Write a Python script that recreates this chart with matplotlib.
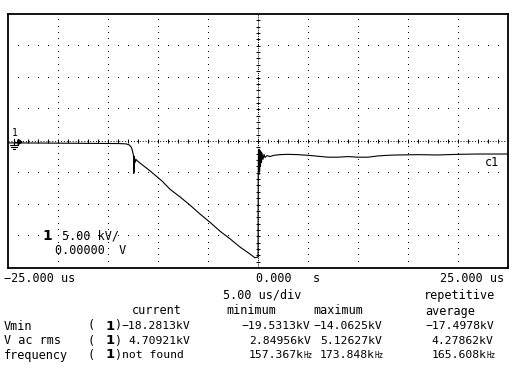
import numpy as np
import matplotlib
matplotlib.use("Agg")
from matplotlib import pyplot as plt
from matplotlib.lines import Line2D

# trace of channel 1 (time in us, voltage in kV)
t_trace = [-25, -22, -19, -16, -14, -13.2, -12.9, -12.7, -12.6, -12.5,
           -12.45, -12.42, -12.40, -12.38, -12.35, -12.3, -12.2,
           -12.1, -10.8, -9.6, -8.8, -7.8, -6.8, -5.8, -4.8, -3.8, -2.8, -1.8, -0.8, -0.3, -0.1,
           0.0, 0.02, 0.05, 0.08, 0.12, 0.16, 0.2, 0.25, 0.3, 0.35, 0.4, 0.5, 0.6, 0.7, 0.9,
           1.2, 1.6, 2.2, 3, 4, 5, 6, 7, 8, 9, 10, 11, 12, 13, 14, 16, 18, 20, 22, 25]
v_trace = [-0.30, -0.32, -0.35, -0.38, -0.40, -0.45, -0.6, -0.9, -1.3, -1.9,
           -2.3, -5.1, -2.4, -4.8, -2.6, -3.4, -2.9,
           -3.1, -4.7, -6.3, -7.6, -8.8, -10.1, -11.5, -12.8, -14.2, -15.4, -16.7, -17.8, -18.4, -18.3,
           -18.3, -5.5, -1.4, -5.3, -1.3, -4.8, -1.5, -4.0, -1.7, -3.4, -1.9, -2.9, -2.1, -2.6, -2.3,
           -2.45, -2.25, -2.15, -2.1, -2.15, -2.25, -2.4, -2.55, -2.55, -2.45, -2.55, -2.55, -2.35, -2.25,
           -2.2, -2.15, -2.2, -2.1, -2.05, -2.05]

# measurement table
meas_names = ["Vmin", "V ac rms", "frequency"]
meas_current = ["\u221218.2813kV", "4.70921kV", "not found"]
meas_min = ["\u221219.5313kV", "2.84956kV", "157.367k"]
meas_max = ["\u221214.0625kV", "5.12627kV", "173.848k"]
meas_avg = ["\u221217.4978kV", "4.27862kV", "165.608k"]
meas_unit_small = ["", "", "Hz"]

W, H = 512, 368
fig = plt.figure(figsize=(W / 100, H / 100), dpi=100)
fig.patch.set_facecolor("white")

def px(x, y):
    return x / W, 1 - y / H

ax = fig.add_axes([8 / W, 100 / H, 500 / W, 254 / H])
ax.set_xlim(-25, 25)
ax.set_ylim(-20, 20)
ax.set_xticks([])
ax.set_yticks([])
for s in ax.spines.values():
    s.set_linewidth(1.3)

# dotted graticule
tt = np.arange(-24, 25, 1)
vv = np.arange(-19, 20, 1)
for v in [-15, -10, -5, 5, 10, 15]:
    ax.plot(tt, np.full(len(tt), v), ",", color="black")
for t in [-20, -15, -10, -5, 5, 10, 15, 20]:
    ax.plot(np.full(len(vv), t), vv, ",", color="black")
# center axes, denser
ax.axhline(0, color="black", lw=0.7, ls=(0, (1, 2)))
ax.axvline(0, color="black", lw=0.7, ls=(0, (1, 1)))
ax.plot(tt, np.zeros(len(tt)), "|", color="black", ms=3, mew=0.7)
ax.plot(np.zeros(len(vv)), vv, "_", color="black", ms=3, mew=0.7)

# trace
ax.plot(t_trace, v_trace, color="black", lw=0.8)

mono = "DejaVu Sans Mono"
fs = 8.5
tfs = 8.2
cw = 0.602 * tfs * 100 / 72  # char width in px for table values

# scale labels inside the screen
fig.text(*px(42, 236), "1", fontsize=10, fontweight="bold", va="center", ha="left")
fig.text(*px(62, 236), "5.00 kV/", fontsize=fs, family=mono, va="center", ha="left")
fig.text(*px(55, 251), "0.00000  V", fontsize=fs, family=mono, va="center", ha="left")
fig.text(*px(485, 162), "c1", fontsize=fs, family=mono, va="center", ha="left")

# ground marker
fig.text(*px(12, 133), "1", fontsize=7, family=mono, va="center", ha="left")
ground = [((14, 139), (14, 145)), ((10, 145), (18, 145)), ((11, 147), (17, 147)), ((13, 149), (15, 149)),
          ((14, 142), (18, 142))]
for a, b in ground:
    fig.add_artist(Line2D([a[0] / W, b[0] / W], [1 - a[1] / H, 1 - b[1] / H],
                          transform=fig.transFigure, color="black", lw=0.8))
fig.add_artist(plt.Polygon([px(18, 139.5), px(18, 144.5), px(22, 142)], closed=True,
                           transform=fig.transFigure, color="black"))

# time labels
fig.text(*px(4, 279), "\u221225.000 us", fontsize=fs, family=mono, va="center", ha="left")
fig.text(*px(256, 279), "0.000   s", fontsize=fs, family=mono, va="center", ha="left")
fig.text(*px(504, 279), "25.000 us", fontsize=fs, family=mono, va="center", ha="right")
fig.text(*px(223, 295), "5.00 us/div", fontsize=fs, family=mono, va="center", ha="left")
fig.text(*px(424, 295), "repetitive", fontsize=fs, family=mono, va="center", ha="left")

# measurement table
fig.text(*px(132, 311), "current", fontsize=fs, family=mono, va="center", ha="left")
fig.text(*px(226, 311), "minimum", fontsize=fs, family=mono, va="center", ha="left")
fig.text(*px(313, 311), "maximum", fontsize=fs, family=mono, va="center", ha="left")
fig.text(*px(425, 311), "average", fontsize=fs, family=mono, va="center", ha="left")

row_y = [326, 341, 355]
col_x = [(242, meas_min), (313, meas_max), (425, meas_avg)]
for i, y in enumerate(row_y):
    fig.text(*px(4, y), meas_names[i], fontsize=fs, family=mono, va="center", ha="left")
    fig.text(*px(87, y), "(", fontsize=fs, family=mono, va="center", ha="left")
    fig.text(*px(106, y), "1", fontsize=9.5, fontweight="bold", va="center", ha="left")
    fig.text(*px(114, y), ")", fontsize=fs, family=mono, va="center", ha="left")
    cur = meas_current[i]
    xc = 122 + (cw if cur[0].isdigit() else 0)
    fig.text(*px(xc, y), cur, fontsize=tfs, family=mono, va="center", ha="left")
    for x0, col in col_x:
        s = col[i]
        xs = x0 + (cw if s[0].isdigit() else 0)
        fig.text(*px(xs, y), s, fontsize=tfs, family=mono, va="center", ha="left")
        if meas_unit_small[i]:
            x1 = xs + len(s) * cw
            fig.text(*px(x1, y + 1), meas_unit_small[i], fontsize=5.5, family=mono,
                     va="center", ha="left")

plt.savefig("out.png", dpi=100, facecolor="white")
